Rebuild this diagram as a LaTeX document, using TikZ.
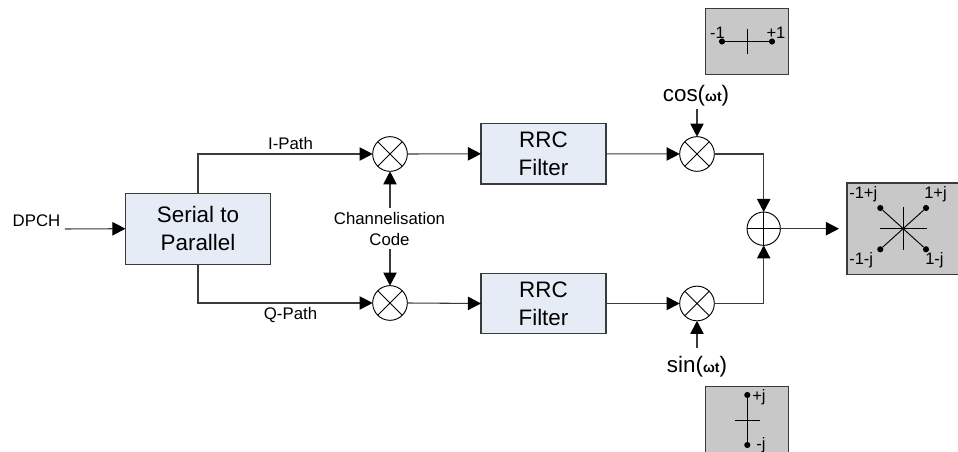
\documentclass[tikz,border=0pt]{standalone}
\usepackage{fontspec}
\setmainfont{Liberation Sans}
\usetikzlibrary{arrows.meta}
\newcommand{\fs}[2]{\fontsize{#1}{#2}\selectfont}
\newcommand{\wt}{{\fontsize{10.5}{12}\selectfont\bfseries ωt}}
\definecolor{bluefill}{HTML}{E5ECF6}
\definecolor{grayfill}{HTML}{C8C8C8}
\definecolor{linecol}{HTML}{3A3A3A}
\tikzset{
  blockbox/.style={draw=linecol,line width=0.85pt,fill=bluefill,align=center,inner sep=0pt,outer sep=0pt,text=black},
  bigblock/.style={blockbox,font=\fs{16.8}{21}},
  mixnode/.style={circle,draw=black,line width=0.7pt,fill=white,minimum size=26pt,inner sep=0pt,outer sep=0pt,
    path picture={\draw[line width=0.6pt] (path picture bounding box.north west)--(path picture bounding box.south east)
      (path picture bounding box.north east)--(path picture bounding box.south west);}},
  sumnode/.style={circle,draw=black,line width=0.7pt,fill=white,minimum size=25pt,inner sep=0pt,outer sep=0pt,
    path picture={\draw[line width=0.6pt] (path picture bounding box.north)--(path picture bounding box.south)
      (path picture bounding box.east)--(path picture bounding box.west);}},
  lab/.style={font=\fs{12.6}{15},inner sep=0pt,align=center,text=black},
  small/.style={font=\fs{12.4}{14},inner sep=0pt,text=black},
  trig/.style={font=\fs{16.8}{20},inner sep=0pt,anchor=base,text=black},
  conn/.style={draw=linecol,line width=0.8pt,-{Triangle[length=9.8pt,width=10pt,fill=black,color=black]}},
  graybox/.style={draw=linecol,line width=0.85pt,fill=grayfill,inner sep=0pt,outer sep=0pt},
  dot/.style={circle,fill=black,inner sep=0pt,minimum size=4.6pt},
  fine/.style={draw=black,line width=0.7pt},
}
\begin{document}
\begin{tikzpicture}[x=0.75pt,y=-0.75pt]
\useasboundingbox (0,0) rectangle (958,452);
% blocks
\node[bigblock,minimum width=108.75pt,minimum height=53.25pt] (sp) at (198,228.7) {Serial to\\Parallel};
\node[bigblock,minimum width=93.75pt,minimum height=45.4pt] (rrc1) at (543.5,153.8) {RRC\\Filter};
\node[bigblock,minimum width=93.75pt,minimum height=45.4pt] (rrc2) at (543.5,303.5) {RRC\\Filter};
\node[mixnode] (m1) at (390,154) {};
\node[mixnode] (m2) at (390,303) {};
\node[mixnode] (m3) at (697,154) {};
\node[mixnode] (m4) at (697,303.5) {};
\node[sumnode] (sum) at (763.7,228.7) {};
% labels
\node[lab] (dpch) at (36.5,220.5) {DPCH};
\node[lab] (ipath) at (290.5,143.5) {I-Path};
\node[lab] (qpath) at (290.5,315) {Q-Path};
\node[lab,font=\fs{12.6}{15.5}] (chan) at (389.5,229) {Channelisation\\Code};
\node[trig] (cosl) at (696,102) {cos(\wt)};
\node[trig] (sinl) at (697,372.5) {sin(\wt)};
\coordinate (dpchin) at (65,229);
\coordinate (cosin) at (697,109);
\coordinate (sinin) at (697,348);
\coordinate (out) at (839,228.7);
\coordinate (chanN) at (390,208);
\coordinate (chanS) at (390,249);
% connectors
\draw[conn] (dpchin) -- (sp.west);
\draw[conn] (sp.north) |- (m1.west);
\draw[conn] (sp.south) |- (m2.west);
\draw[conn] (chanN) -- (m1.south);
\draw[conn] (chanS) -- (m2.north);
\draw[conn] (m1.east) -- (rrc1.west);
\draw[conn] (m2.east) -- (rrc2.west);
\draw[conn] (rrc1.east) -- (m3.west);
\draw[conn] (rrc2.east) -- (m4.west);
\draw[conn] (cosin) -- (m3.north);
\draw[conn] (sinin) -- (m4.south);
\draw[conn] (m3.east) -| (sum.north);
\draw[conn] (m4.east) -| (sum.south);
\draw[conn] (sum.east) -- (out);
% top constellation
\node[graybox,minimum width=62.5pt,minimum height=49.8pt] (bpski) at (747.2,41.5) {};
\node[dot] (a1) at (722,41.5) {};
\node[dot] (a2) at (772,41.5) {};
\draw[fine] (a1) -- (a2);
\coordinate (a3) at (747,29); \coordinate (a4) at (747,54);
\draw[fine] (a3) -- (a4);
\node[small] (a5) at (717.5,33) {-1};
\node[small] (a6) at (776,33) {+1};
% main constellation
\fill[grayfill] (847,183) rectangle (958,274.3);
\draw[draw=linecol,line width=0.85pt] (958,183) -- (847,183) -- (847,274.3) -- (958,274.3);
\coordinate (c) at (903.3,228.7);
\node[dot] (d1) at (880.3,208) {};
\node[dot] (d2) at (926,208) {};
\node[dot] (d3) at (880.3,249.3) {};
\node[dot] (d4) at (926,249.3) {};
\draw[fine] (d1) -- (d4) (d2) -- (d3);
\coordinate (c1) at (903.3,207); \coordinate (c2) at (903.3,250);
\coordinate (c3) at (880,228.7); \coordinate (c4) at (927,228.7);
\draw[fine] (c1) -- (c2) (c3) -- (c4);
\node[small,anchor=west] (l1) at (849,194) {-1+j};
\node[small,anchor=west] (l2) at (924,194) {1+j};
\node[small,anchor=west] (l3) at (849,260.5) {-1-j};
\node[small,anchor=west] (l4) at (925,260.5) {1-j};
% bottom constellation
\fill[grayfill] (705.3,386.7) rectangle (788.7,452);
\draw[draw=linecol,line width=0.85pt] (705.3,452) -- (705.3,386.7) -- (788.7,386.7) -- (788.7,452);
\node[dot] (e1) at (747.3,395) {};
\node[dot] (e2) at (747.3,445) {};
\draw[fine] (e1) -- (e2);
\coordinate (e3) at (734.5,420); \coordinate (e4) at (760,420);
\draw[fine] (e3) -- (e4);
\node[small,anchor=west] (e5) at (752,397) {+j};
\node[small,anchor=west] (e6) at (756,445) {-j};
\end{tikzpicture}
\end{document}
